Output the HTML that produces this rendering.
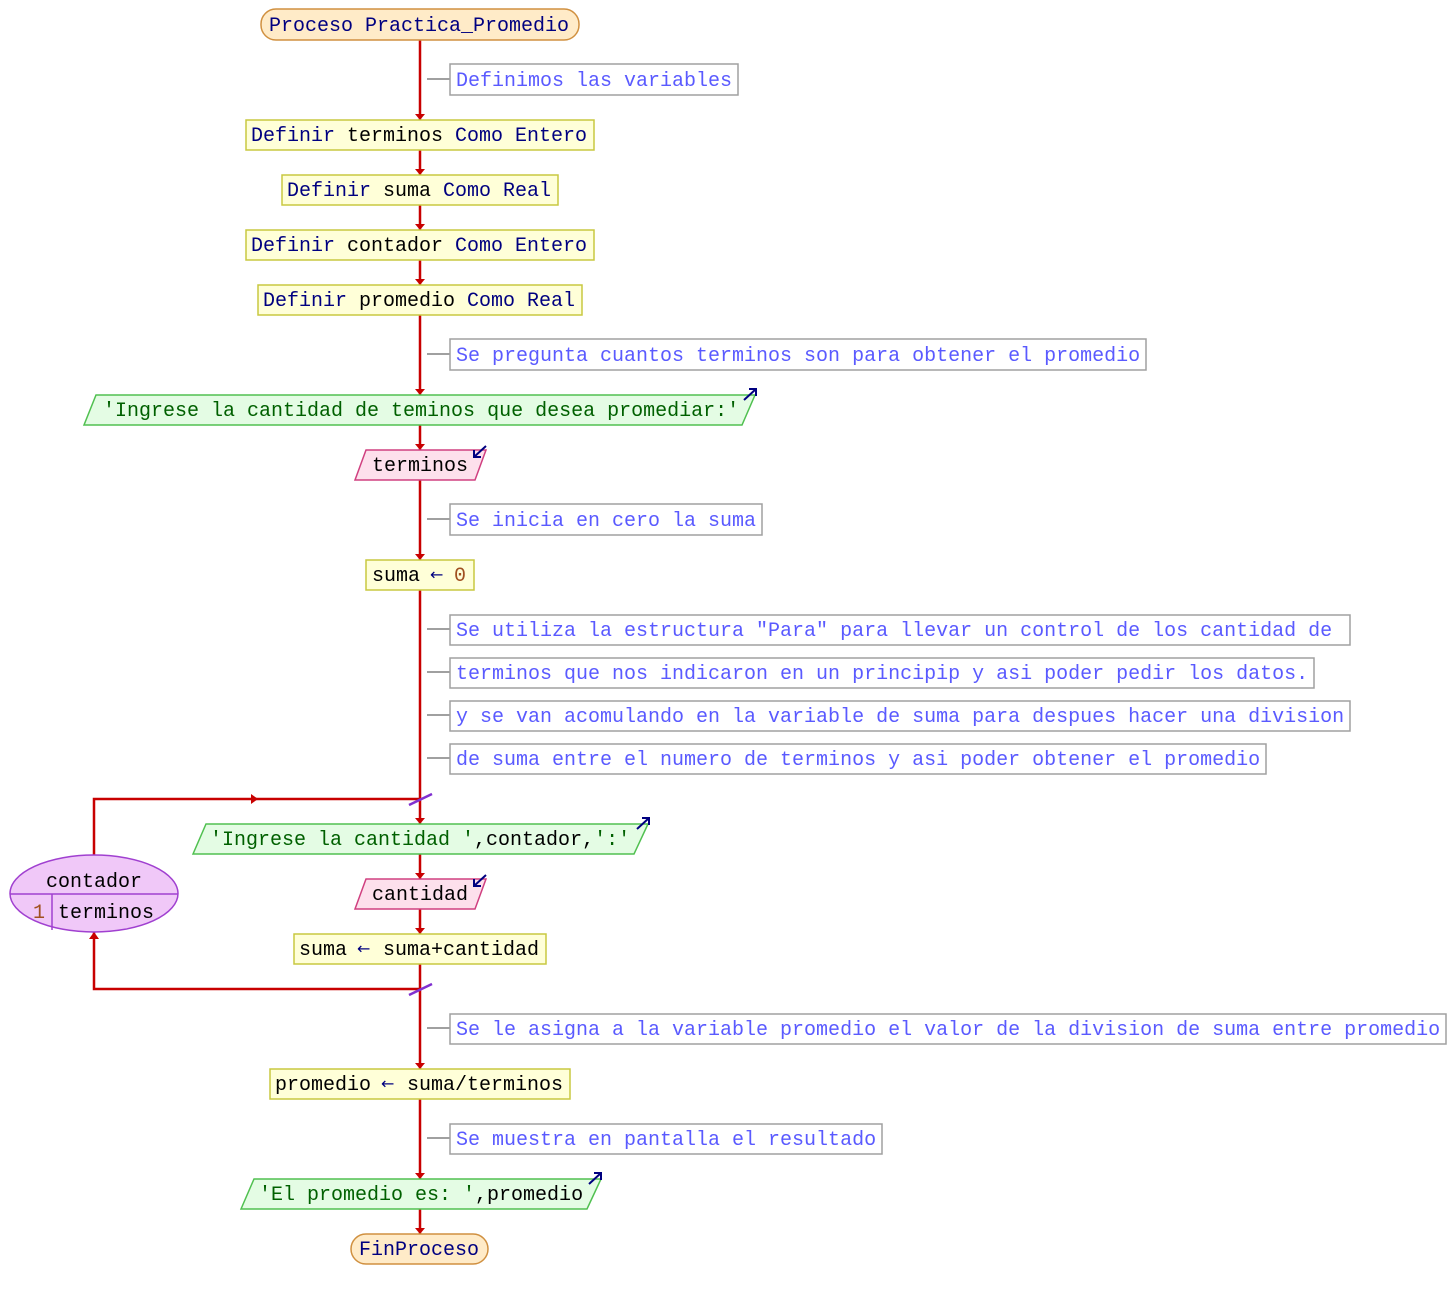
<!DOCTYPE html>
<html><head><meta charset="utf-8"><style>
html,body{margin:0;padding:0;background:#fff;}
svg{display:block;}
text{font-family:"Liberation Mono",monospace;font-size:20px;white-space:pre;}
.k{fill:#000080}.v{fill:#000}.c{fill:#5a5aff}.s{fill:#006000}.n{fill:#a05020}
.cb{fill:#fff;stroke:#a0a0a0;stroke-width:1.5}
.cl{stroke:#a0a0a0;stroke-width:2}
.pb{fill:#ffffd8;stroke:#c8c840;stroke-width:1.5}
.ob{fill:#e4fce4;stroke:#50c050;stroke-width:1.5}
.ib{fill:#fde0ec;stroke:#d04080;stroke-width:1.5}
.tb{fill:#ffebc8;stroke:#d09040;stroke-width:1.5}
.ar{fill:#c80000}
.ic{stroke:#000080;stroke-width:2;fill:none}
.arr{font-family:"DejaVu Sans",sans-serif;font-size:16px;fill:#000080}
</style></head><body>
<svg width="1456" height="1299" viewBox="0 0 1456 1299" xmlns="http://www.w3.org/2000/svg">
<line x1="420" y1="40" x2="420" y2="1234" stroke="#c80000" stroke-width="2.5"/>
<polyline points="420,799 94,799 94,855" fill="none" stroke="#c80000" stroke-width="2.5"/>
<polyline points="420,989 94,989 94,932" fill="none" stroke="#c80000" stroke-width="2.5"/>
<polygon class="ar" points="251,794 258,799 251,804"/>
<polygon class="ar" points="89,939 94,932 99,939"/>
<line x1="409" y1="805" x2="432" y2="794" stroke="#8030d0" stroke-width="2.5"/>
<line x1="409" y1="995" x2="432" y2="984" stroke="#8030d0" stroke-width="2.5"/>
<g class="ar">
<polygon points="415,114 425,114 420,120"/>
<polygon points="415,169 425,169 420,175"/>
<polygon points="415,224 425,224 420,230"/>
<polygon points="415,279 425,279 420,285"/>
<polygon points="415,389 425,389 420,395"/>
<polygon points="415,444 425,444 420,450"/>
<polygon points="415,554 425,554 420,560"/>
<polygon points="415,818 425,818 420,824"/>
<polygon points="415,873 425,873 420,879"/>
<polygon points="415,928 425,928 420,934"/>
<polygon points="415,1063 425,1063 420,1069"/>
<polygon points="415,1173 425,1173 420,1179"/>
<polygon points="415,1228 425,1228 420,1234"/>
</g>
<rect class="tb" x="261" y="9" width="318" height="31" rx="15"/>
<text x="269" y="31" class="k">Proceso Practica_Promedio</text>
<g>
<line class="cl" x1="427" y1="79" x2="450" y2="79"/><rect class="cb" x="450" y="64" width="288" height="31"/><text x="456" y="86" class="c">Definimos las variables</text>
<line class="cl" x1="427" y1="354" x2="450" y2="354"/><rect class="cb" x="450" y="339" width="696" height="31"/><text x="456" y="361" class="c">Se pregunta cuantos terminos son para obtener el promedio</text>
<line class="cl" x1="427" y1="519" x2="450" y2="519"/><rect class="cb" x="450" y="504" width="312" height="31"/><text x="456" y="526" class="c">Se inicia en cero la suma</text>
<line class="cl" x1="427" y1="629" x2="450" y2="629"/><rect class="cb" x="450" y="615" width="900" height="30"/><text x="456" y="636" class="c">Se utiliza la estructura "Para" para llevar un control de los cantidad de</text>
<line class="cl" x1="427" y1="672" x2="450" y2="672"/><rect class="cb" x="450" y="658" width="864" height="30"/><text x="456" y="679" class="c">terminos que nos indicaron en un principip y asi poder pedir los datos.</text>
<line class="cl" x1="427" y1="715" x2="450" y2="715"/><rect class="cb" x="450" y="701" width="900" height="30"/><text x="456" y="722" class="c">y se van acomulando en la variable de suma para despues hacer una division</text>
<line class="cl" x1="427" y1="758" x2="450" y2="758"/><rect class="cb" x="450" y="744" width="816" height="30"/><text x="456" y="765" class="c">de suma entre el numero de terminos y asi poder obtener el promedio</text>
<line class="cl" x1="427" y1="1028" x2="450" y2="1028"/><rect class="cb" x="450" y="1014" width="996" height="30"/><text x="456" y="1035" class="c">Se le asigna a la variable promedio el valor de la division de suma entre promedio</text>
<line class="cl" x1="427" y1="1138" x2="450" y2="1138"/><rect class="cb" x="450" y="1124" width="432" height="30"/><text x="456" y="1145" class="c">Se muestra en pantalla el resultado</text>
</g>
<rect class="pb" x="246" y="120" width="348" height="30"/><text x="251" y="141"><tspan class="k">Definir </tspan><tspan class="v">terminos</tspan><tspan class="k"> Como Entero</tspan></text>
<rect class="pb" x="282" y="175" width="276" height="30"/><text x="287" y="196"><tspan class="k">Definir </tspan><tspan class="v">suma</tspan><tspan class="k"> Como Real</tspan></text>
<rect class="pb" x="246" y="230" width="348" height="30"/><text x="251" y="251"><tspan class="k">Definir </tspan><tspan class="v">contador</tspan><tspan class="k"> Como Entero</tspan></text>
<rect class="pb" x="258" y="285" width="324" height="30"/><text x="263" y="306"><tspan class="k">Definir </tspan><tspan class="v">promedio</tspan><tspan class="k"> Como Real</tspan></text>
<polygon class="ob" points="84,425 96,395 755,395 742,425"/>
<text x="103" y="416" class="s">'Ingrese la cantidad de teminos que desea promediar:'</text>
<path class="ic" d="M744,400 L756,389 M749,389 L756,389 L756,396"/>
<polygon class="ib" points="355,480 366,450 486,450 475,480"/>
<text x="372" y="471" class="v">terminos</text>
<path class="ic" d="M486,446 L474,457 M474,450 L474,457 L481,457"/>
<rect class="pb" x="366" y="560" width="108" height="30"/>
<text x="372" y="581" class="v">suma</text><text x="430" y="580" class="arr">←</text><text x="454" y="581" class="n">0</text>
<ellipse cx="94" cy="893.5" rx="84" ry="38.5" fill="#f0c8f8" stroke="#a040d0" stroke-width="1.5"/>
<line x1="10" y1="894" x2="178" y2="894" stroke="#a040d0" stroke-width="1.5"/>
<line x1="52" y1="894" x2="52" y2="930" stroke="#a040d0" stroke-width="1.5"/>
<text x="94" y="887" class="v" text-anchor="middle">contador</text>
<text x="33" y="918" class="n">1</text>
<text x="58" y="918" class="v">terminos</text>
<polygon class="ob" points="193,854 206,824 648,824 634,854"/>
<text x="210" y="845"><tspan class="s">'Ingrese la cantidad '</tspan><tspan class="v">,contador,</tspan><tspan class="s">':'</tspan></text>
<path class="ic" d="M637,829 L649,818 M642,818 L649,818 L649,825"/>
<polygon class="ib" points="355,909 366,879 486,879 475,909"/>
<text x="372" y="900" class="v">cantidad</text>
<path class="ic" d="M486,875 L474,886 M474,879 L474,886 L481,886"/>
<rect class="pb" x="294" y="934" width="252" height="30"/>
<text x="299" y="955" class="v">suma</text><text x="357" y="954" class="arr">←</text><text x="383" y="955" class="v">suma+cantidad</text>
<rect class="pb" x="270" y="1069" width="300" height="30"/>
<text x="275" y="1090" class="v">promedio</text><text x="381" y="1089" class="arr">←</text><text x="407" y="1090" class="v">suma/terminos</text>
<polygon class="ob" points="241,1209 254,1179 601,1179 587,1209"/>
<text x="259" y="1200"><tspan class="s">'El promedio es: '</tspan><tspan class="v">,promedio</tspan></text>
<path class="ic" d="M589,1184 L601,1173 M594,1173 L601,1173 L601,1180"/>
<rect class="tb" x="351" y="1234" width="137" height="30" rx="15"/>
<text x="359" y="1255" class="k">FinProceso</text>
</svg>
</body></html>
